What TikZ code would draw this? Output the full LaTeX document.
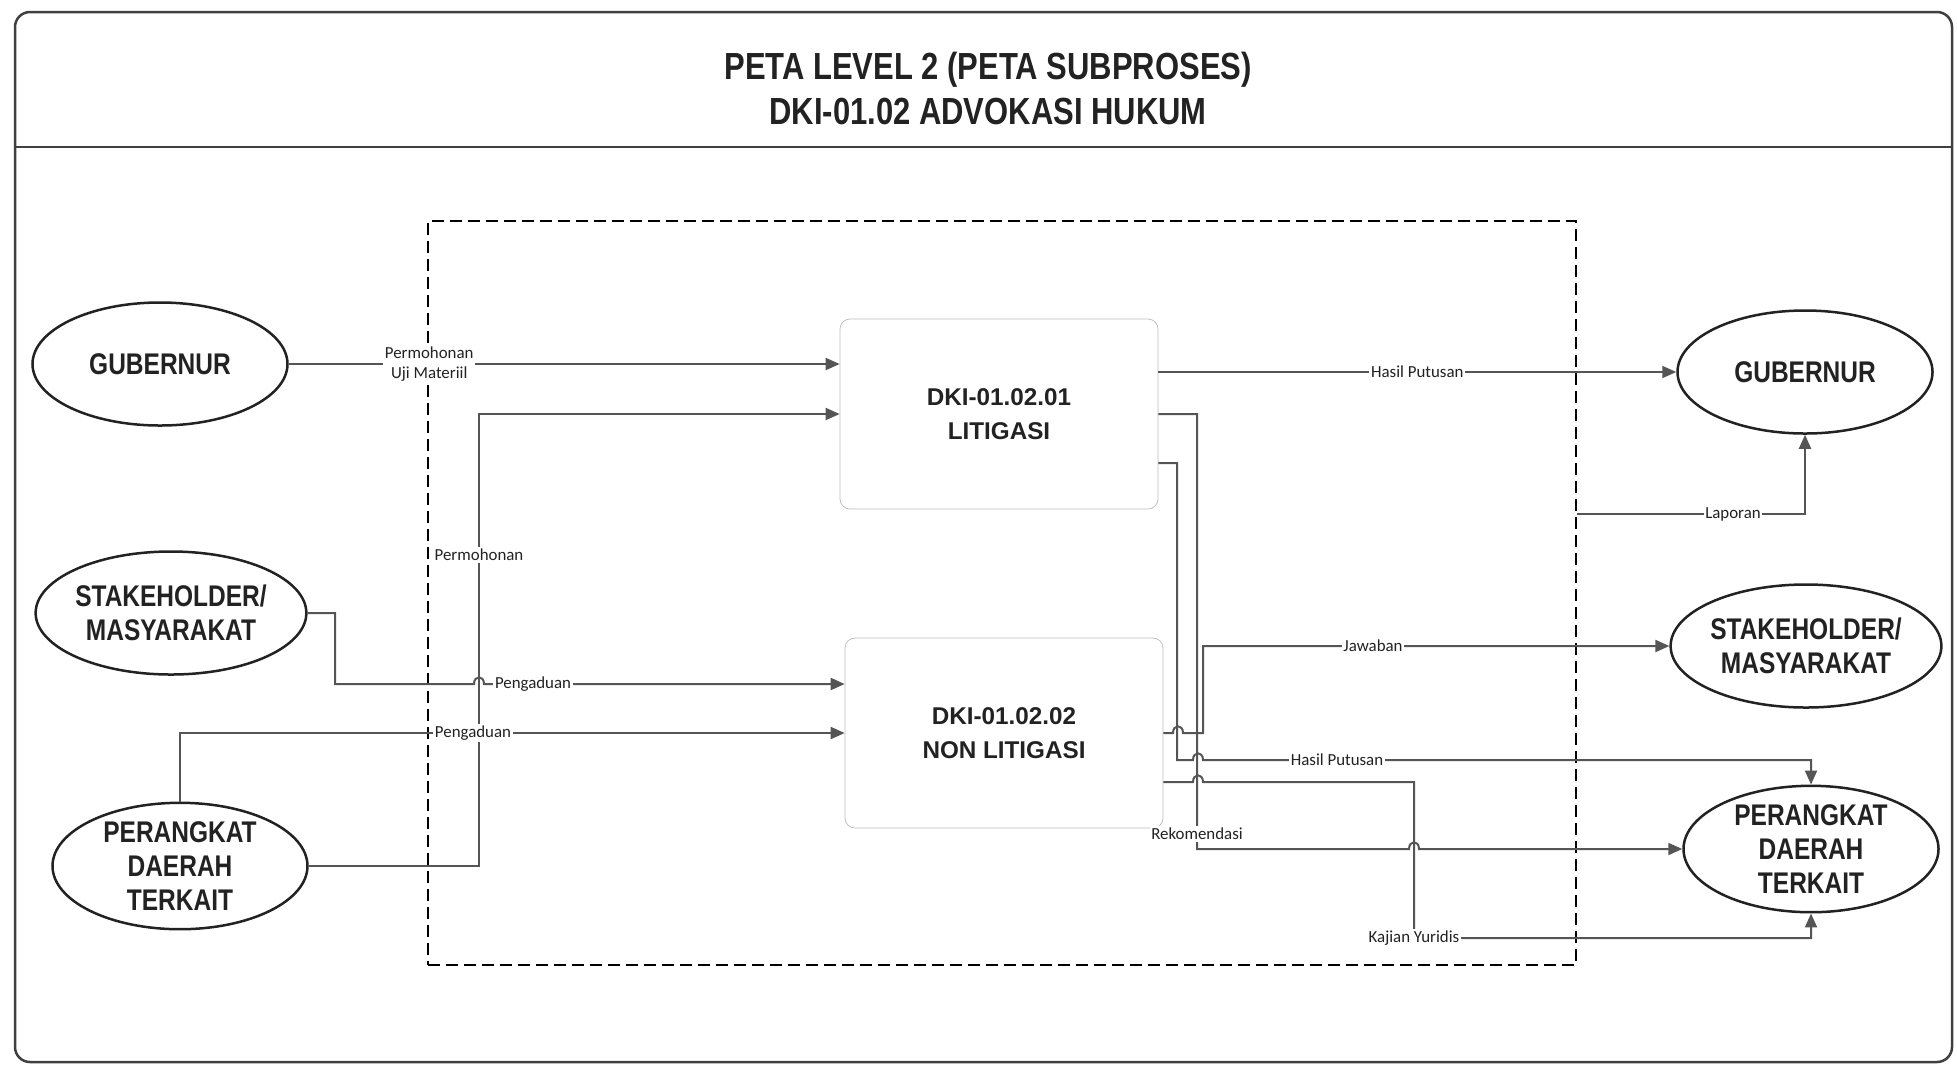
\documentclass[tikz,border=0pt]{standalone}
\usepackage{fontspec}
\setmainfont{Liberation Sans}
\newfontfamily\narrowfont[FakeStretch=0.82]{Liberation Sans}
\newfontfamily\lblfont{Carlito}
\usetikzlibrary{arrows.meta, positioning, calc, fit, shapes.geometric}
\definecolor{linegray}{HTML}{555555}
\definecolor{boxgray}{HTML}{BBBBBB}
\definecolor{inkblack}{HTML}{222222}
% small hop where a line crosses another one
\newcommand{\jumpover}[2]{-- ({#1-5},#2) .. controls +(0,-9) and +(0,-9) .. ({#1+5},#2)}

\begin{document}
\begin{tikzpicture}[
  x=0.2mm, y=-0.2mm,
  ent/.style={ellipse, draw=inkblack, line width=0.5mm, fill=white,
    minimum width=51mm, minimum height=24.6mm, inner sep=0pt, align=center,
    text=inkblack, font={\narrowfont\fontsize{17}{19.5}\selectfont\bfseries}},
  proc/.style={draw=boxgray, rounded corners=2mm, fill=white,
    minimum width=63.6mm, minimum height=38mm, align=center, text=inkblack,
    font={\fontsize{13.8}{19}\selectfont\bfseries}},
  region/.style={draw=black, line width=0.3mm, dash pattern=on 2.4mm off 1.2mm,
    inner sep=0pt},
  arr/.style={-{Triangle[length=2.8mm, width=2.4mm]}, draw=linegray,
    line width=0.4mm},
  lbl/.style={fill=white, inner sep=1pt, text=inkblack, align=center,
    font={\lblfont\fontsize{9.6}{11}\selectfont}},
]
  \useasboundingbox (0,0) rectangle (1957,1066);

  % frame and title
  \draw[draw=black!75, line width=0.5mm, rounded corners=3mm]
    (15,12) rectangle (1952,1062);
  \draw[draw=black!75, line width=0.45mm] (15,147) -- (1952,147);
  \node[text=inkblack, align=center,
    font={\narrowfont\fontsize{21.5}{25.6}\selectfont\bfseries}] (title)
    at (988,88) {PETA LEVEL 2 (PETA SUBPROSES)\\DKI-01.02 ADVOKASI HUKUM};

  % subprocess area
  \node[region, fit={(428,221) (1576,965)}] (sub) {};

  \node[proc] (lit)    at (999,414)  {DKI-01.02.01\\LITIGASI};
  \node[proc] (nonlit) at (1004,733) {DKI-01.02.02\\NON LITIGASI};

  % input side
  \node[ent] (gubL)   at (160,364) {GUBERNUR};
  \node[ent] (stakeL) at (171,613) {STAKEHOLDER/\\MASYARAKAT};
  \node[ent] (pdL)    at (180,866) {PERANGKAT\\DAERAH\\TERKAIT};

  % output side
  \node[ent] (gubR)   at (1805,372) {GUBERNUR};
  \node[ent] (stakeR) at (1806,646) {STAKEHOLDER/\\MASYARAKAT};
  \node[ent] (pdR)    at (1811,849) {PERANGKAT\\DAERAH\\TERKAIT};

  % inputs
  \draw[arr] (gubL.east) -- node[lbl, pos=0.255] {Permohonan\\Uji Materiil}
    (lit.west |- gubL.east);
  \draw[arr] (pdL.east) -| (479,555) node[lbl] {Permohonan} |- (lit.west);
  \draw[arr] (stakeL.east) -| (335,684) \jumpover{479}{684}
    -- (533,684) node[lbl] {Pengaduan} -- (nonlit.west |- 0,684);
  \draw[arr] (pdL.north) |- (473,733) node[lbl] {Pengaduan} -- (nonlit.west);

  % outputs
  \draw[arr] (gubR.west -| lit.east) -- node[lbl, pos=0.5] {Hasil Putusan}
    (gubR.west);
  \draw[arr] (sub.east |- 0,514) -- (1733,514) node[lbl] {Laporan}
    -| (gubR.south);
  \draw[arr] (lit.east) -| (1197,834) node[lbl] {Rekomendasi}
    -- (1197,849) \jumpover{1414}{849} -- (pdR.west);
  \draw[arr] ([yshift=-9.8mm]lit.east) -| (1177,760) \jumpover{1198}{760}
    -- (1337,760) node[lbl] {Hasil Putusan} -| (pdR.north);
  \draw[arr] (nonlit.east) \jumpover{1178}{733} -- (1203,733)
    |- (1373,646) node[lbl] {Jawaban} -- (stakeR.west);
  \draw[arr] ([yshift=-9.8mm]nonlit.east) \jumpover{1198}{782}
    -| (1414,938) node[lbl] {Kajian Yuridis} -| (pdR.south);
\end{tikzpicture}
\end{document}
